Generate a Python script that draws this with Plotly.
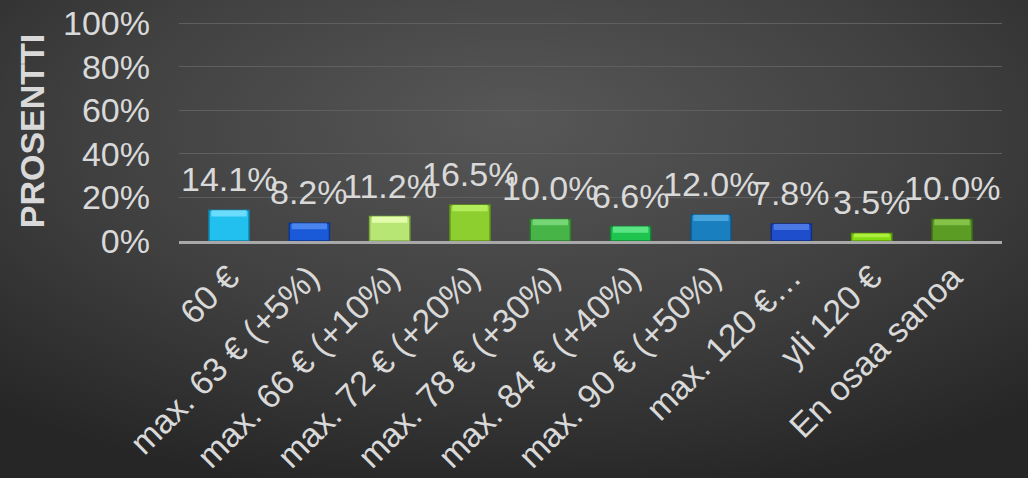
import base64
import plotly.graph_objects as go

categories = ["60 €", "max. 63 € (+5%)", "max. 66 € (+10%)", "max. 72 € (+20%)",
              "max. 78 € (+30%)", "max. 84 € (+40%)", "max. 90 € (+50%)",
              "max. 120 €…", "yli 120 €", "En osaa sanoa"]
values = [0.141, 0.082, 0.112, 0.165, 0.100, 0.066, 0.120, 0.078, 0.035, 0.100]
bar_colors = ["#22c0ee", "#1a5ad8", "#b8e674", "#8ccf2e", "#46b446",
              "#1ec44e", "#1a7fbe", "#1e4ecc", "#84dc12", "#5a9c24"]
bevel_colors = ["#6cdcfc", "#4a84ee", "#e2fcac", "#b2ec5a", "#76d676",
                "#5ae484", "#48a4dc", "#4a78e4", "#aeee3e", "#84c248"]
line_colors = ["#137fa6", "#0e3690", "#7fae3e", "#5f9218", "#2c7d2c",
               "#118434", "#0f557f", "#112f88", "#5a9a08", "#3c6a14"]
y_ticks = [0, 0.2, 0.4, 0.6, 0.8, 1.0]
y_title = "PROSENTTI"

FONT = "Liberation Sans, Arial, sans-serif"
TXT = "#d9d9d9"
FS = 34

svg = """<svg xmlns='http://www.w3.org/2000/svg' width='1028' height='478' preserveAspectRatio='none'>
<defs><radialGradient id='g' cx='0.5' cy='0.3' r='0.75' fx='0.5' fy='0.25'>
<stop offset='0' stop-color='#575757'/>
<stop offset='0.55' stop-color='#404040'/>
<stop offset='1' stop-color='#262626'/>
</radialGradient></defs>
<rect width='1028' height='478' fill='url(#g)'/></svg>"""
bg = "data:image/svg+xml;base64," + base64.b64encode(svg.encode()).decode()

L, R, T, B = 179, 26, 21, 237
PW, PH = 1028 - L - R, 478 - T - B

fig = go.Figure()
fig.add_trace(go.Bar(
    x=categories, y=values, width=0.5,
    marker=dict(color=bar_colors, line=dict(color=line_colors, width=1.5)),
    hoverinfo="skip",
))
# lighter top band imitating the bevelled bar top
band = [min(0.028, 0.5 * v) for v in values]
fig.add_trace(go.Bar(
    x=categories, y=band, base=[v - b for v, b in zip(values, band)], width=0.44,
    marker=dict(color=bevel_colors, line=dict(width=0)),
    hoverinfo="skip",
))

for c, v in zip(categories, values):
    fig.add_annotation(x=c, y=v, xref="x", yref="y", text=f"{v*100:.1f}%",
                       showarrow=False, yanchor="bottom", yshift=10,
                       font=dict(family=FONT, size=FS, color=TXT))

fig.update_layout(
    width=1028, height=478,
    margin=dict(l=L, r=R, t=T, b=B),
    paper_bgcolor="#3a3a3a",
    plot_bgcolor="rgba(0,0,0,0)",
    showlegend=False,
    barmode="overlay",
    images=[dict(source=bg, xref="paper", yref="paper", x=-L / PW, y=1 + T / PH,
                 sizex=1028 / PW, sizey=478 / PH, xanchor="left", yanchor="top",
                 sizing="stretch", layer="below")],
    font=dict(family=FONT, color=TXT),
)
fig.update_xaxes(
    tickangle=-45, tickfont=dict(family=FONT, size=FS, color=TXT),
    showline=True, linecolor="#a8a8a8", linewidth=2.5, showgrid=False,
    ticks="", zeroline=False, automargin=False,
)
fig.update_yaxes(
    range=[0, 1.01], tickvals=y_ticks, tickformat=".0%",
    tickfont=dict(family=FONT, size=FS, color=TXT),
    showgrid=True, gridcolor="#5f5f5f", gridwidth=1,
    zeroline=False, showline=False, ticks="", ticklabelstandoff=28,
    automargin=False,
    title=dict(text=f"<b>{y_title}</b>", font=dict(family=FONT, size=34, color=TXT), standoff=8),
)

fig.write_html("out.html")
